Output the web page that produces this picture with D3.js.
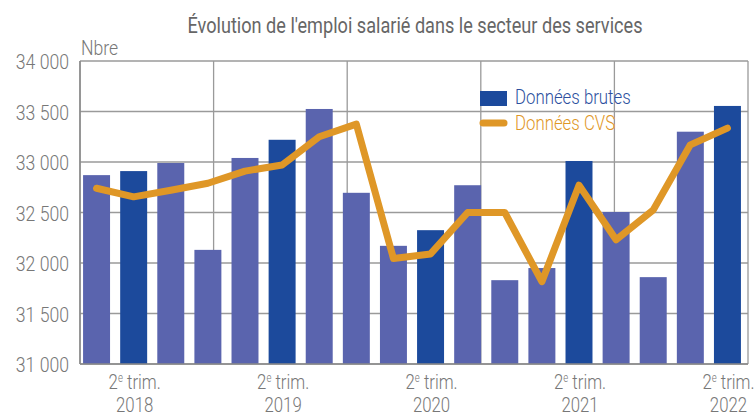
<!DOCTYPE html>
<html lang="fr">
<head>
<meta charset="UTF-8">
<script src="https://cdn.jsdelivr.net/npm/d3@7"></script>
<style>
  body { margin: 0; background: #fff; }
  text { font-family: Roboto, "Liberation Sans", sans-serif; }
</style>
</head>
<body>
<div id="chart"></div>
<script>
// trimestres 2018 T1 -> 2022 T2
var quarters = ["2018T1","2018T2","2018T3","2018T4","2019T1","2019T2","2019T3","2019T4",
                "2020T1","2020T2","2020T3","2020T4","2021T1","2021T2","2021T3","2021T4",
                "2022T1","2022T2"];
var brutes = [32870, 32910, 32990, 32130, 33040, 33220, 33525, 32695, 32170,
              32325, 32770, 31830, 31950, 33010, 32505, 31860, 33300, 33555];
var cvs = [32740, 32655, 32720, 32790, 32910, 32970, 33250, 33375, 32045,
           32090, 32500, 32500, 31815, 32770, 32230, 32525, 33170, 33335];
var yTicks = [31000, 31500, 32000, 32500, 33000, 33500, 34000];
var xTickQuarters = ["2018T2","2019T2","2020T2","2021T2","2022T2"];
var xTickYears = ["2018","2019","2020","2021","2022"];
var legendLabels = ["Données brutes", "Données CVS"];

var width = 754, height = 412;
var plot = {left: 80, right: 748, top: 61, bottom: 364};

var colLight = "#5a64ae", colDark = "#1c4a9c", colCvs = "#df9727",
    colGrid = "#9a9a9a", colText = "#777777";

var svg = d3.select("#chart").append("svg")
    .attr("width", width).attr("height", height);

var x = d3.scaleBand()
    .domain(quarters)
    .range([78, 746])
    .paddingInner(0.273)
    .paddingOuter(0.1365);

var y = d3.scaleLinear()
    .domain([31000, 34000])
    .range([plot.bottom, plot.top]);

// squeeze text horizontally to mimic the condensed font
function condense(sel, k) {
    sel.each(function() {
        var w = this.getComputedTextLength();
        this.setAttribute("textLength", w * k);
        this.setAttribute("lengthAdjust", "spacingAndGlyphs");
    });
}

// grid
var grid = svg.append("g");
grid.selectAll("line.h").data(yTicks).enter().append("line")
    .attr("x1", plot.left).attr("x2", plot.right)
    .attr("y1", function(d){ return y(d); }).attr("y2", function(d){ return y(d); })
    .style("stroke", colGrid).style("stroke-width", 1.3);

var vx = d3.scaleLinear().domain([0, 5]).range([plot.left, plot.right]);
grid.selectAll("line.v").data(d3.range(6)).enter().append("line")
    .attr("x1", function(d){ return vx(d); }).attr("x2", function(d){ return vx(d); })
    .attr("y1", plot.top).attr("y2", plot.bottom)
    .style("stroke", colGrid).style("stroke-width", 1.3);

// bars
svg.selectAll("rect.bar").data(brutes).enter().append("rect")
    .attr("x", function(d, i){ return x(quarters[i]); })
    .attr("y", function(d){ return y(d); })
    .attr("width", x.bandwidth())
    .attr("height", function(d){ return y(31000) - y(d); })
    .style("fill", function(d, i){ return quarters[i].slice(4) == "T2" ? colDark : colLight; });

svg.append("line")
    .attr("x1", plot.left).attr("x2", plot.right)
    .attr("y1", plot.bottom).attr("y2", plot.bottom)
    .style("stroke", "#8a8a8a").style("stroke-width", 1.5);
svg.append("line")
    .attr("x1", plot.left).attr("x2", plot.left)
    .attr("y1", plot.top).attr("y2", plot.bottom)
    .style("stroke", "#8a8a8a").style("stroke-width", 1.5);

// CVS line
var line = d3.line()
    .x(function(d, i){ return x(quarters[i]) + x.bandwidth() / 2; })
    .y(function(d){ return y(d); });

svg.append("path")
    .datum(cvs)
    .attr("d", line)
    .style("fill", "none")
    .style("stroke", colCvs)
    .style("stroke-width", 7)
    .style("stroke-linecap", "round")
    .style("stroke-linejoin", "round");

// y labels
var yl = svg.selectAll("text.ylab").data(yTicks).enter().append("text")
    .attr("x", 69)
    .attr("y", function(d){ return y(d) + 8; })
    .attr("text-anchor", "end")
    .style("font-size", "21px")
    .style("font-weight", 300)
    .style("fill", colText)
    .text(function(d){ return d3.format(",")(d).replace(",", " "); });
condense(yl, 0.84);

var nb = svg.append("text")
    .attr("x", 81).attr("y", 55)
    .style("font-size", "21px").style("font-weight", 300)
    .style("fill", colText)
    .text("Nbre");
condense(nb, 0.84);

// x labels (group squeezed horizontally)
var xl = svg.selectAll("g.xlab").data(xTickQuarters).enter().append("g")
    .attr("transform", function(d){
        return "translate(" + (x(d) + x.bandwidth() / 2 + 1) + ",0) scale(0.8,1)";
    });
var t1 = xl.append("text")
    .attr("y", 389).attr("text-anchor", "middle")
    .style("font-size", "21px").style("font-weight", 300)
    .style("fill", colText);
t1.append("tspan").text("2");
t1.append("tspan").attr("dy", -7).style("font-size", "12px").text("e");
t1.append("tspan").attr("dy", 7).text(" trim.");
xl.append("text")
    .attr("y", 412).attr("text-anchor", "middle")
    .style("font-size", "21px").style("font-weight", 300)
    .style("fill", colText)
    .text(function(d, i){ return xTickYears[i]; });

// title
var title = svg.append("text")
    .attr("x", 415).attr("y", 33)
    .attr("text-anchor", "middle")
    .style("font-size", "22px")
    .style("font-weight", 400)
    .style("fill", "#666666")
    .text("Évolution de l'emploi salarié dans le secteur des services");
title.attr("textLength", 455).attr("lengthAdjust", "spacingAndGlyphs");

// legend
var lg = svg.append("g");
lg.append("rect")
    .attr("x", 480).attr("y", 91).attr("width", 27).attr("height", 15)
    .style("fill", colDark);
lg.append("line")
    .attr("x1", 483).attr("x2", 504).attr("y1", 123).attr("y2", 123)
    .style("stroke", colCvs).style("stroke-width", 7).style("stroke-linecap", "round");
var lt = lg.selectAll("text").data(legendLabels).enter().append("text")
    .attr("x", 515)
    .attr("y", function(d, i){ return 104 + i * 26; })
    .style("font-size", "21px").style("font-weight", 300)
    .style("fill", function(d, i){ return i == 0 ? "#2c4f9e" : colCvs; })
    .text(function(d){ return d; });
condense(lt, 0.8);
</script>
</body>
</html>
